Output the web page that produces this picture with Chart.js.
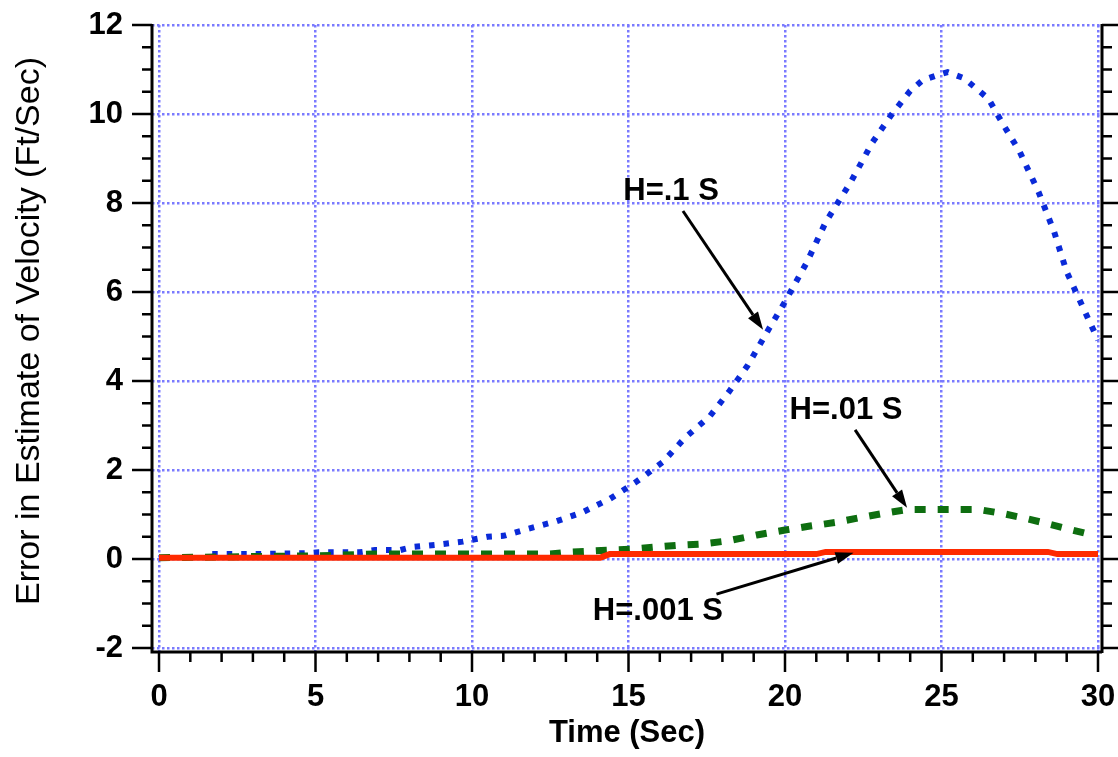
<!DOCTYPE html>
<html>
<head>
<meta charset="utf-8">
<script src="https://cdn.jsdelivr.net/npm/chart.js@4"></script>
<style>
html, body { margin: 0; padding: 0; background: #fff; }
</style>
</head>
<body>
<canvas id="chart" width="1118" height="757"></canvas>
<script>
// axis ticks
const xTicks = [0, 5, 10, 15, 20, 25, 30];
const yTicks = [-2, 0, 2, 4, 6, 8, 10, 12];

// H = .1 S (blue dotted)
const timeH1 = [1.7, 3.0, 4.7, 5.1, 6.4, 6.9, 7.7, 8.1, 9.0, 9.7, 10.5, 11.0, 11.8, 12.7, 13.5,
    14.4, 15.2, 16.1, 16.8, 17.6, 18.2, 18.8, 19.5, 20.0, 20.7, 21.3, 22.1, 22.8, 23.4, 24.0,
    24.4, 24.9, 25.2, 25.7, 26.1, 26.5, 27.0, 27.5, 28.1, 28.6, 29.0, 29.4, 30.0];
const errH1 = [0.11, 0.11, 0.13, 0.15, 0.15, 0.2, 0.2, 0.27, 0.33, 0.39, 0.5, 0.52, 0.68, 0.85, 1.04,
    1.35, 1.71, 2.18, 2.72, 3.21, 3.75, 4.34, 5.19, 5.78, 6.67, 7.57, 8.47, 9.37, 9.98, 10.52,
    10.76, 10.88, 10.94, 10.81, 10.58, 10.34, 9.73, 9.15, 8.25, 7.35, 6.45, 5.84, 4.92];

// H = .01 S (green dashed)
const timeH2 = [0, 5.0, 6.9, 12.5, 13.0, 14.4, 15.1, 15.9, 16.6, 17.4, 18.2, 19.1, 20.0, 20.8,
    21.6, 22.4, 23.1, 23.9, 24.6, 25.4, 26.2, 26.9, 27.7, 28.4, 28.9, 29.7, 29.9];
const errH2 = [0.03, 0.07, 0.11, 0.11, 0.15, 0.2, 0.22, 0.27, 0.31, 0.34, 0.41, 0.54, 0.65, 0.74,
    0.82, 0.93, 1.02, 1.11, 1.11, 1.11, 1.11, 1.03, 0.91, 0.79, 0.7, 0.56, 0.56];

// H = .001 S (red solid)
const timeH3 = [0, 14.1, 14.4, 21.0, 21.3, 28.4, 28.7, 30];
const errH3 = [0.03, 0.03, 0.11, 0.11, 0.16, 0.16, 0.11, 0.11];

// callouts: label centre, arrow start, arrow tip (data units)
const notes = [
    { text: 'H=.1 S', at: [16.36, 8.25], from: [16.74, 7.82], to: [19.3, 5.15] },
    { text: 'H=.01 S', at: [21.95, 3.33], from: [22.24, 2.9], to: [23.9, 1.15] },
    { text: 'H=.001 S', at: [15.94, -1.17], from: [17.81, -0.79], to: [22.19, 0.14] }
];

const FONT = "'Liberation Sans', Arial, Helvetica, sans-serif";

function pairs(xs, ys) {
    return xs.map((x, i) => ({ x: x, y: ys[i] }));
}

const frame = {
    id: 'frame',
    afterDraw(chart) {
        const ctx = chart.ctx;
        const a = chart.chartArea;
        const xs = chart.scales.x;
        const ys = chart.scales.y;
        ctx.save();

        // axis lines
        ctx.strokeStyle = '#000';
        ctx.lineWidth = 3;
        ctx.beginPath();
        ctx.moveTo(a.left, a.top - 1);
        ctx.lineTo(a.left, a.bottom);
        ctx.lineTo(a.right, a.bottom);
        ctx.moveTo(a.right, a.top - 1);
        ctx.lineTo(a.right, a.bottom + 1);
        ctx.stroke();

        // major + minor ticks
        ctx.lineWidth = 2.5;
        ctx.beginPath();
        for (let i = 0; i <= 28; i++) {
            const v = -2 + i * 0.5;
            const py = ys.getPixelForValue(v);
            const major = i % 4 === 0;
            ctx.moveTo(a.left - (major ? 20 : 10), py);
            ctx.lineTo(a.left, py);
            ctx.moveTo(a.right, py);
            ctx.lineTo(a.right + (major ? 16 : 10), py);
        }
        for (let v = 0; v <= 30; v++) {
            const px = xs.getPixelForValue(v);
            ctx.moveTo(px, a.bottom);
            ctx.lineTo(px, a.bottom + (v % 5 === 0 ? 20 : 10));
        }
        ctx.stroke();

        // callouts
        ctx.fillStyle = '#000';
        ctx.font = 'bold 31px ' + FONT;
        ctx.textAlign = 'center';
        ctx.textBaseline = 'middle';
        notes.forEach(n => {
            ctx.fillText(n.text, xs.getPixelForValue(n.at[0]), ys.getPixelForValue(n.at[1]));
            const x0 = xs.getPixelForValue(n.from[0]), y0 = ys.getPixelForValue(n.from[1]);
            const x1 = xs.getPixelForValue(n.to[0]), y1 = ys.getPixelForValue(n.to[1]);
            const ang = Math.atan2(y1 - y0, x1 - x0);
            const hl = 18, hw = 6;
            const bx = x1 - hl * Math.cos(ang), by = y1 - hl * Math.sin(ang);
            ctx.lineWidth = 3;
            ctx.beginPath();
            ctx.moveTo(x0, y0);
            ctx.lineTo(bx, by);
            ctx.stroke();
            ctx.beginPath();
            ctx.moveTo(x1, y1);
            ctx.lineTo(bx + hw * Math.sin(ang), by - hw * Math.cos(ang));
            ctx.lineTo(bx - hw * Math.sin(ang), by + hw * Math.cos(ang));
            ctx.closePath();
            ctx.fill();
        });

        // y axis title
        ctx.font = '34px ' + FONT;
        ctx.translate(30, 331);
        ctx.rotate(-Math.PI / 2);
        ctx.fillText('Error in Estimate of Velocity (Ft/Sec)', 0, 0);
        ctx.restore();
    }
};

new Chart(document.getElementById('chart').getContext('2d'), {
    type: 'scatter',
    data: {
        datasets: [
            {
                label: 'H=.001 S',
                data: pairs(timeH3, errH3),
                showLine: true,
                borderColor: '#ff2a00',
                borderWidth: 6,
                pointRadius: 0,
                order: 0
            },
            {
                label: 'H=.01 S',
                data: pairs(timeH2, errH2),
                showLine: true,
                borderColor: '#0e6e10',
                borderWidth: 7,
                borderDash: [11, 12],
                pointRadius: 0,
                order: 1
            },
            {
                label: 'H=.1 S',
                data: pairs(timeH1, errH1),
                showLine: true,
                borderColor: '#0a2ad8',
                borderWidth: 6,
                borderDash: [5.5, 9],
                pointRadius: 0,
                order: 2
            }
        ]
    },
    options: {
        responsive: false,
        animation: false,
        layout: { padding: { left: 0, right: 16, top: 25, bottom: 0 } },
        plugins: {
            legend: { display: false },
            tooltip: { enabled: false }
        },
        scales: {
            x: {
                type: 'linear',
                min: -0.224,
                max: 30.128,
                afterBuildTicks: s => { s.ticks = xTicks.map(v => ({ value: v })); },
                afterFit: s => { s.height = 105; s.paddingLeft = 0; s.paddingRight = 0; },
                grid: { color: '#7a7aff', lineWidth: 2.5, drawTicks: false },
                border: { display: false, dash: [2.5, 2.5] },
                ticks: {
                    padding: 27,
                    color: '#000',
                    font: { family: FONT, size: 31, weight: 'bold' }
                },
                title: {
                    display: true,
                    text: 'Time (Sec)',
                    color: '#000',
                    font: { family: FONT, size: 31, weight: 'bold' },
                    padding: { top: 0, bottom: 5 }
                }
            },
            y: {
                type: 'linear',
                min: -2.09,
                max: 12,
                afterBuildTicks: s => { s.ticks = yTicks.map(v => ({ value: v })); },
                afterFit: s => { s.width = 152; s.paddingTop = 0; s.paddingBottom = 0; },
                grid: { color: '#7a7aff', lineWidth: 2.5, drawTicks: false },
                border: { display: false, dash: [2.5, 2.5] },
                ticks: {
                    padding: 29,
                    color: '#000',
                    font: { family: FONT, size: 31, weight: 'bold' }
                }
            }
        }
    },
    plugins: [frame]
});
</script>
</body>
</html>
